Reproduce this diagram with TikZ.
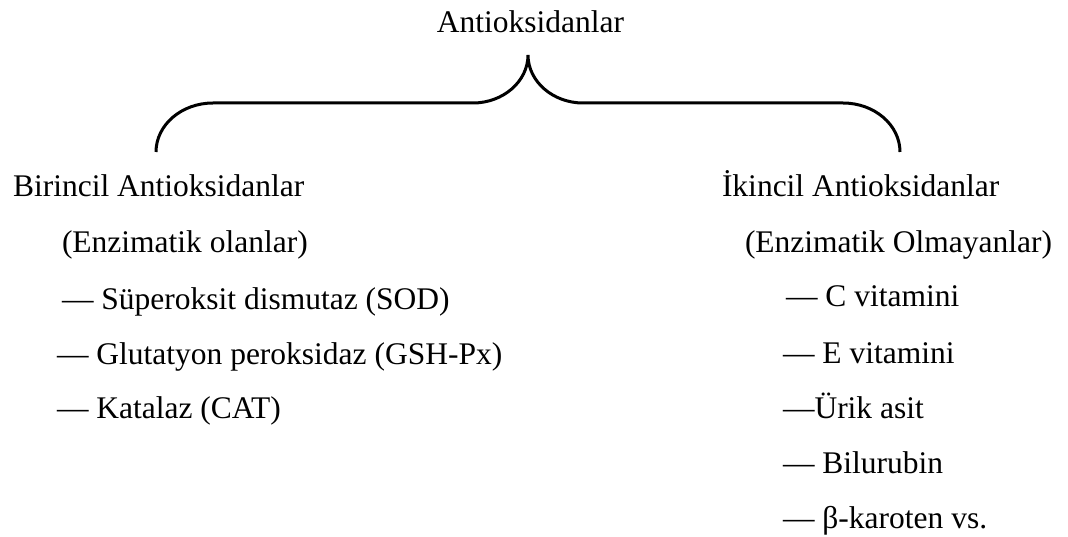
\documentclass[tikz,border=0pt]{standalone}
\usepackage{fontspec}
\setmainfont{Liberation Serif}
\begin{document}
\begin{tikzpicture}[x=1pt,y=-1pt,
  txt/.style={anchor=base west,inner sep=0pt,outer sep=0pt,font=\fontsize{31.5}{36}\selectfont},
  bracepath/.style={line width=3pt,black}]
\useasboundingbox[fill=white] (0,0) rectangle (1068,537);
% title
\node[txt,anchor=base] (title) at (530.5,33) {Antioksidanlar};
% brace
\coordinate (lt) at (156,152);
\coordinate (ls) at (213,103);
\coordinate (le) at (473,103);
\coordinate (cusp) at (528,55);
\coordinate (rs) at (583,103);
\coordinate (re) at (843,103);
\coordinate (rt) at (900,152);
\draw[bracepath] (lt) .. controls (156,125) and (181.5,103) .. (ls) -- (le)
  .. controls (503,103) and (528,81.5) .. (cusp)
  .. controls (528,81.5) and (553,103) .. (rs) -- (re)
  .. controls (874.5,103) and (900,125) .. (rt);
% left column
\node[txt] (b1) at (13,197) {Birincil Antioksidanlar};
\node[txt] (b2) at (62,253) {(Enzimatik olanlar)};
\node[txt] (b3) at (62,309) {— Süperoksit dismutaz (SOD)};
\node[txt] (b4) at (57,364) {— Glutatyon peroksidaz (GSH-Px)};
\node[txt] (b5) at (57,418) {— Katalaz (CAT)};
% right column
\node[txt] (i1) at (722,197) {İkincil Antioksidanlar};
\node[txt] (i2) at (745,253) {(Enzimatik Olmayanlar)};
\node[txt] (i3) at (786,307) {— C vitamini};
\node[txt] (i4) at (783,363) {— E vitamini};
\node[txt] (i5) at (783,418) {—Ürik asit};
\node[txt] (i6) at (783,473) {— Bilurubin};
\node[txt] (i7) at (783,528) {— β-karoten vs.};
\end{tikzpicture}
\end{document}
